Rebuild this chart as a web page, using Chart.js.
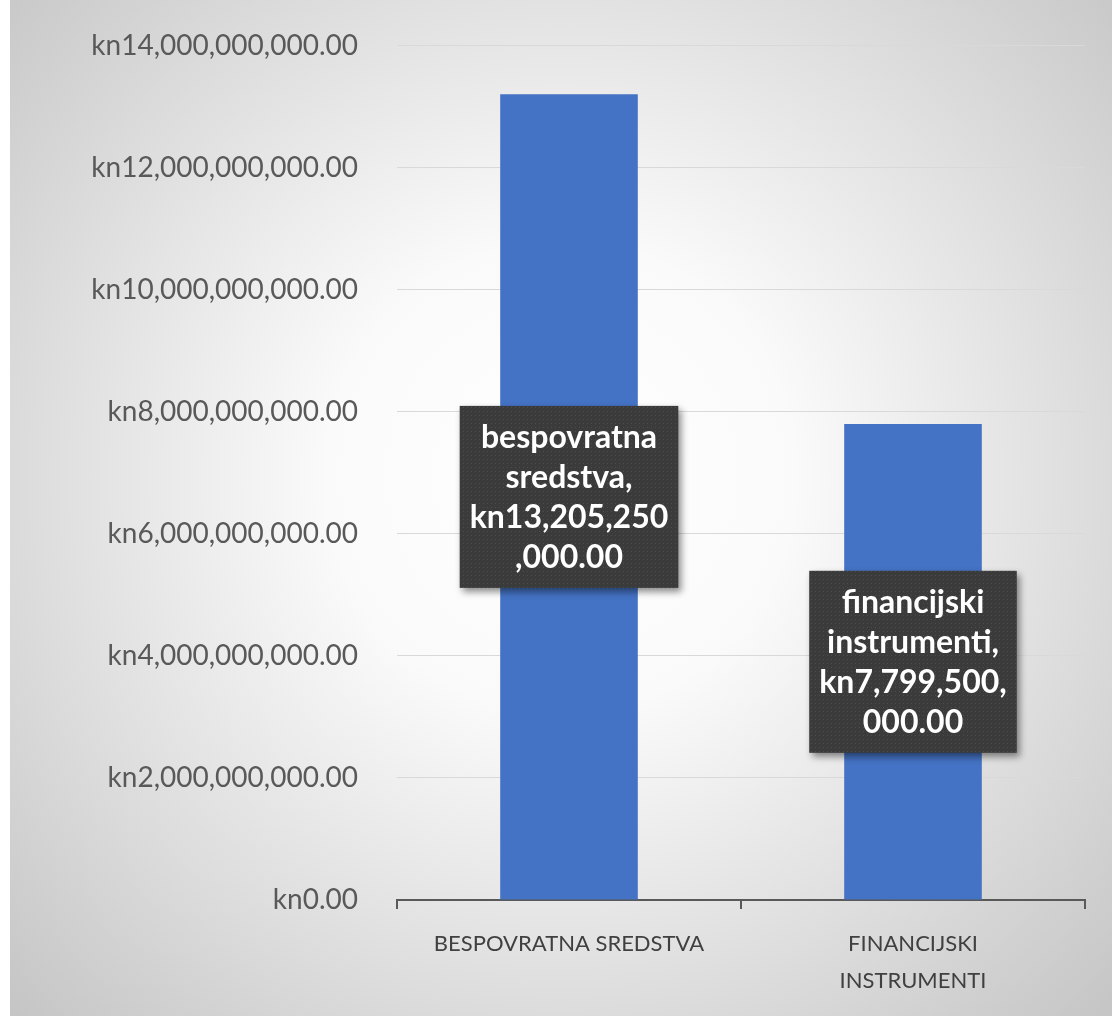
<!DOCTYPE html>
<html>
<head>
<meta charset="utf-8">
<script src="https://cdn.jsdelivr.net/npm/chart.js@4"></script>
<style>
  html, body { margin: 0; padding: 0; background: #ffffff; overflow: hidden; }
  #wrap { position: absolute; left: 10px; top: -10px; width: 1102px; height: 1026px; }
</style>
</head>
<body>
<div id="wrap"><canvas id="myChart" width="1102" height="1026"></canvas></div>
<script>
// categories and values (kn)
const categories = [["BESPOVRATNA SREDSTVA"], ["FINANCIJSKI", "INSTRUMENTI"]];
const labelNames = ["bespovratna sredstva", "financijski instrumenti"];
const values = [13205250000, 7799500000];
const yTicks = [0, 2e9, 4e9, 6e9, 8e9, 10e9, 12e9, 14e9];

function kn(v) {
    return 'kn' + v.toLocaleString('en-US', {minimumFractionDigits: 2, maximumFractionDigits: 2});
}

// wrap text by words, then cut long words at maxChars
function wrapText(text, maxChars) {
    let lines = [];
    let cur = '';
    text.split(' ').forEach(function (word) {
        while (word.length > maxChars) {
            if (cur) { lines.push(cur); cur = ''; }
            lines.push(word.slice(0, maxChars));
            word = word.slice(maxChars);
        }
        if (!cur) cur = word;
        else if ((cur + ' ' + word).length <= maxChars) cur += ' ' + word;
        else { lines.push(cur); cur = word; }
    });
    if (cur) lines.push(cur);
    return lines;
}

// fond radijalni
const bgPlugin = {
    id: 'bg',
    beforeDraw(chart) {
        const c = chart.ctx;
        const w = chart.width, h = chart.height;
        const g = c.createRadialGradient(w * 0.5, h * 0.475, 0, w * 0.5, h * 0.475, 780);
        g.addColorStop(0, '#ffffff');
        g.addColorStop(0.3, '#fafafa');
        g.addColorStop(1, '#c4c4c4');
        c.save();
        c.fillStyle = g;
        c.fillRect(0, 0, w, h);
        c.restore();
    }
};

// tamne oznake podataka
function makePattern(c) {
    const p = document.createElement('canvas');
    p.width = 4; p.height = 4;
    const pc = p.getContext('2d');
    pc.fillStyle = '#3b3b3b';
    pc.fillRect(0, 0, 4, 4);
    pc.fillStyle = '#4d4d4d';
    pc.fillRect(1, 1, 1, 1);
    return c.createPattern(p, 'repeat');
}

const labelPlugin = {
    id: 'boxLabels',
    afterDatasetsDraw(chart) {
        const c = chart.ctx;
        const meta = chart.getDatasetMeta(0);
        const lineH = 40;
        c.save();
        c.font = 'bold 32px Lato';
        const pat = makePattern(c);
        meta.data.forEach(function (bar, i) {
            const lines = wrapText(labelNames[i] + ', ' + kn(values[i]), 12);
            let tw = 0;
            lines.forEach(function (l) { tw = Math.max(tw, c.measureText(l).width); });
            const bw = tw + 20;
            const bh = lines.length * lineH + 22;
            const cx = bar.x;
            const cy = (bar.y + bar.base) / 2;
            c.save();
            c.shadowColor = 'rgba(0,0,0,0.45)';
            c.shadowBlur = 7;
            c.shadowOffsetX = 3;
            c.shadowOffsetY = 4;
            c.fillStyle = pat;
            c.fillRect(cx - bw / 2, cy - bh / 2, bw, bh);
            c.restore();
            c.fillStyle = '#ffffff';
            c.textAlign = 'center';
            c.textBaseline = 'middle';
            lines.forEach(function (l, k) {
                c.fillText(l, cx, cy - bh / 2 + 11 + lineH * k + lineH / 2 + 1);
            });
        });
        c.restore();
    }
};

const ctx = document.getElementById('myChart').getContext('2d');
const myChart = new Chart(ctx, {
    type: 'bar',
    data: {
        labels: categories,
        datasets: [{
            data: values,
            backgroundColor: '#4472C4',
            barPercentage: 0.4,
            categoryPercentage: 1.0
        }]
    },
    options: {
        responsive: false,
        animation: false,
        layout: { autoPadding: false, padding: { left: 0, right: 27, top: 32, bottom: 0 } },
        plugins: {
            legend: { display: false },
            tooltip: { enabled: false }
        },
        scales: {
            x: {
                afterFit: function (scale) { scale.height = 116; },
                border: { display: true, color: '#595959', width: 2 },
                grid: {
                    drawOnChartArea: false,
                    drawTicks: true,
                    tickLength: 9,
                    color: '#595959',
                    lineWidth: 2
                },
                ticks: {
                    color: '#404040',
                    padding: 16,
                    maxRotation: 0,
                    font: { size: 22, family: 'Lato', lineHeight: 1.7 }
                }
            },
            y: {
                min: 0,
                max: 14e9,
                afterFit: function (scale) { scale.width = 387; },
                afterBuildTicks: function (scale) {
                    scale.ticks = yTicks.map(function (v) { return {value: v}; });
                },
                border: { display: false },
                grid: { color: '#d9d9d9', lineWidth: 1, drawTicks: false },
                ticks: {
                    color: '#595959',
                    padding: 39,
                    font: { size: 28, family: 'Lato' },
                    callback: function (v) { return kn(v); }
                }
            }
        }
    },
    plugins: [bgPlugin, labelPlugin]
});
</script>
</body>
</html>
